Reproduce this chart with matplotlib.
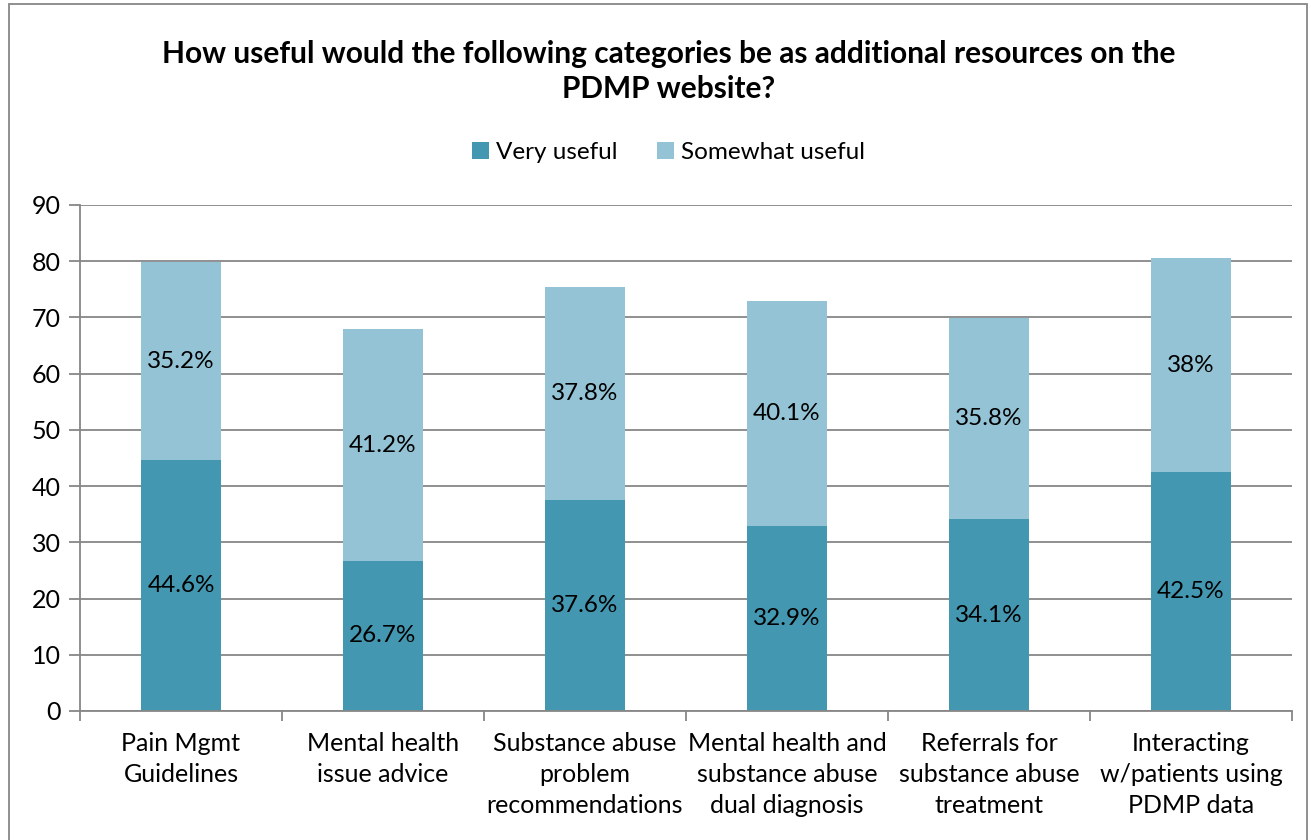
import numpy as np
import matplotlib.pyplot as plt
from matplotlib.patches import Rectangle
from matplotlib.ticker import FixedLocator, NullFormatter

plt.rcParams['font.family'] = ['Lato', 'DejaVu Sans']

categories = ['Pain Mgmt\nGuidelines', 'Mental health\nissue advice',
              'Substance abuse\nproblem\nrecommendations',
              'Mental health and\nsubstance abuse\ndual diagnosis',
              'Referrals for\nsubstance abuse\ntreatment',
              'Interacting\nw/patients using\nPDMP data']
very = [44.6, 26.7, 37.6, 32.9, 34.1, 42.5]
somewhat = [35.2, 41.2, 37.8, 40.1, 35.8, 38.0]
very_lbl = ['44.6%', '26.7%', '37.6%', '32.9%', '34.1%', '42.5%']
some_lbl = ['35.2%', '41.2%', '37.8%', '40.1%', '35.8%', '38%']

c_very = '#4397B0'
c_some = '#93C3D5'
grid_c = '#878787'

fig = plt.figure(figsize=(13.11, 8.4), dpi=100)
ax = fig.add_axes([0.061, 0.1536, 0.9245, 0.6024])

x = np.arange(len(categories))
b1 = ax.bar(x, very, 0.4, color=c_very, label='Very useful', zorder=2)
b2 = ax.bar(x, somewhat, 0.4, bottom=very, color=c_some, label='Somewhat useful', zorder=2)

for i in range(len(x)):
    ax.text(x[i], very[i] / 2, very_lbl[i], ha='center', va='center', fontsize=17.5, zorder=3)
    ax.text(x[i], very[i] + somewhat[i] / 2, some_lbl[i], ha='center', va='center', fontsize=17.5, zorder=3)

ax.set_xlim(-0.5, len(x) - 0.5)
ax.set_ylim(0, 90)
ax.set_yticks(np.arange(0, 91, 10))
ax.yaxis.grid(True, color=grid_c, linewidth=1.3, zorder=0)
ax.set_axisbelow(True)

ax.set_xticks(x)
ax.set_xticklabels(categories, fontsize=18, linespacing=1.42)
ax.tick_params(axis='x', length=0, pad=15)
ax.xaxis.set_minor_locator(FixedLocator(np.arange(-0.5, len(x), 1.0)))
ax.xaxis.set_minor_formatter(NullFormatter())
ax.tick_params(axis='x', which='minor', length=7, color=grid_c, width=1.3)
ax.tick_params(axis='y', labelsize=18, length=8, color=grid_c, width=1.3, pad=6)

for s in ['top', 'right']:
    ax.spines[s].set_visible(False)
for s in ['left', 'bottom']:
    ax.spines[s].set_color(grid_c)
    ax.spines[s].set_linewidth(1.3)

fig.text(0.51, 0.915, 'How useful would the following categories be as additional resources on the\nPDMP website?',
         ha='center', va='center', fontsize=21.5, fontweight='bold', linespacing=1.3)

fig.legend(handles=[b1, b2], loc='center', bbox_to_anchor=(0.51, 0.819), ncol=2,
           frameon=False, fontsize=17.5, handlelength=0.7, handleheight=0.7,
           handletextpad=0.3, columnspacing=1.6)

fig.add_artist(Rectangle((0.007, -0.01), 0.99, 1.005, transform=fig.transFigure,
                         fill=False, edgecolor=grid_c, linewidth=1.3))

fig.savefig('out.png', dpi=100)
